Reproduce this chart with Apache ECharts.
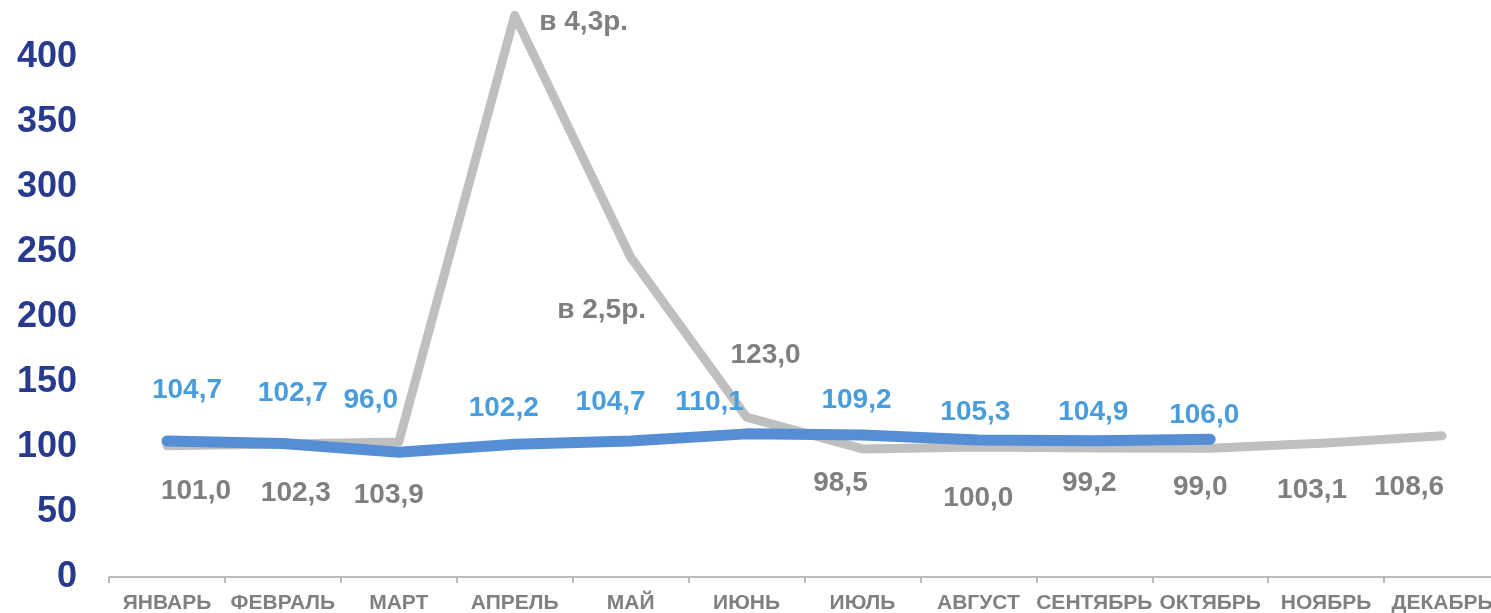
<!DOCTYPE html>
<html>
<head>
<meta charset="utf-8">
<script src="https://cdn.jsdelivr.net/npm/echarts@6/dist/echarts.min.js"></script>
<style>
html,body{margin:0;padding:0;background:#fff;}
#c{width:1491px;height:613px;}
</style>
</head>
<body>
<div id="c"></div>
<script>
var months = ['ЯНВАРЬ','ФЕВРАЛЬ','МАРТ','АПРЕЛЬ','МАЙ','ИЮНЬ','ИЮЛЬ','АВГУСТ','СЕНТЯБРЬ','ОКТЯБРЬ','НОЯБРЬ','ДЕКАБРЬ'];
var grayValues = [101.0, 102.3, 103.9, 432, 246, 123.0, 98.5, 100.0, 99.2, 99.0, 103.1, 108.6];
var grayLabels = ['101,0','102,3','103,9','в 4,3р.','в 2,5р.','123,0','98,5','100,0','99,2','99,0','103,1','108,6'];
var blueValues = [104.7, 102.7, 96.0, 102.2, 104.7, 110.1, 109.2, 105.3, 104.9, 106.0];
var yTicks = [0, 50, 100, 150, 200, 250, 300, 350, 400];

// label placement (style only)
var blueOffsets = [[20,-51],[10,-50],[-28,-52],[-11,-36],[-20,-39],[-37,-32],[-6,-35],[-3,-28],[-1,-28],[-6,-24]];
var grayOffsets = [[29,46],[13,49],[-10,53],[69,7],[-29,53],[19,-62],[-22,34],[0,51],[-5,35],[-10,39],[-14,47],[-33,51]];

var FONT = '"Liberation Sans", Arial, sans-serif';

var grayData = grayValues.map(function(v, i){
  return {value: v, label: {offset: grayOffsets[i], formatter: grayLabels[i]}};
});
var blueData = blueValues.map(function(v, i){
  return {value: v, label: {offset: blueOffsets[i], formatter: String(v.toFixed(1)).replace('.', ',')}};
});

var chart = echarts.init(document.getElementById('c'), null, {renderer: 'canvas'});
chart.setOption({
  animation: false,
  grid: {left: 109, width: 1391, top: 5, bottom: 36, containLabel: false, outerBoundsMode: 'none'},
  xAxis: {
    type: 'category',
    data: months,
    boundaryGap: true,
    axisLine: {show: true, lineStyle: {color: '#A6A6A6', width: 1.5}},
    axisTick: {show: true, length: 6, lineStyle: {color: '#A6A6A6', width: 1.5}},
    axisLabel: {interval: 0, margin: 16, color: '#808080', fontSize: 21, fontWeight: 'bold', fontFamily: FONT}
  },
  yAxis: {
    type: 'value',
    min: yTicks[0],
    max: 440,
    interval: 50,
    axisLine: {show: false},
    axisTick: {show: false},
    splitLine: {show: false},
    axisLabel: {showMaxLabel: false, margin: 32, color: '#283A8E', fontSize: 36, fontWeight: 'bold', fontFamily: FONT}
  },
  series: [
    {
      type: 'line',
      data: grayData,
      symbol: 'circle',
      symbolSize: 1,
      showSymbol: true,
      clip: false,
      z: 2,
      itemStyle: {color: '#BFBFBF'},
      lineStyle: {color: '#BFBFBF', width: 9, cap: 'round', join: 'round'},
      label: {show: true, position: 'inside', color: '#7F7F7F', fontSize: 28, fontWeight: 'bold', fontFamily: FONT}
    },
    {
      type: 'line',
      data: blueData,
      symbol: 'circle',
      symbolSize: 1,
      showSymbol: true,
      clip: false,
      z: 3,
      itemStyle: {color: '#558ED5'},
      lineStyle: {color: '#558ED5', width: 11, cap: 'round', join: 'round'},
      label: {show: true, position: 'inside', color: '#4A9DDC', fontSize: 28, fontWeight: 'bold', fontFamily: FONT}
    }
  ]
});
</script>
</body>
</html>
